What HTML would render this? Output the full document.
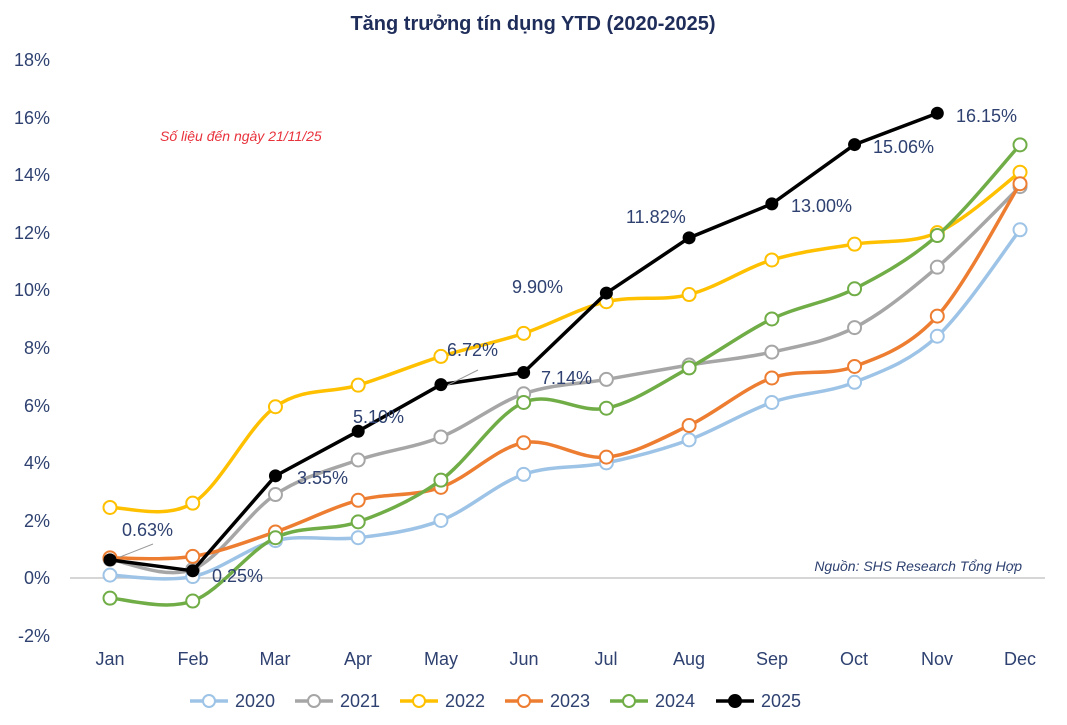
<!DOCTYPE html>
<html><head><meta charset="utf-8"><style>
body{margin:0;background:#fff;width:1067px;height:720px;overflow:hidden}
svg text{font-family:"Liberation Sans",sans-serif}
</style></head><body>
<svg id="s" width="1067" height="720" xmlns="http://www.w3.org/2000/svg">
<text x="533" y="30" text-anchor="middle" font-size="20" font-weight="bold" fill="#1f2d5a">Tăng trưởng tín dụng YTD (2020-2025)</text>
<g font-size="18" fill="#2e4170" text-anchor="end">
<text x="50" y="66">18%</text><text x="50" y="124">16%</text><text x="50" y="181">14%</text><text x="50" y="239">12%</text><text x="50" y="296">10%</text><text x="50" y="354">8%</text><text x="50" y="412">6%</text><text x="50" y="469">4%</text><text x="50" y="527">2%</text><text x="50" y="584">0%</text><text x="50" y="642">-2%</text>
</g>
<line x1="70" y1="578" x2="1045" y2="578" stroke="#c8c8c8" stroke-width="1.5"/>
<g font-size="18" fill="#2e4170" text-anchor="middle">
<text x="110" y="665">Jan</text><text x="193" y="665">Feb</text><text x="275" y="665">Mar</text><text x="358" y="665">Apr</text><text x="441" y="665">May</text><text x="524" y="665">Jun</text><text x="606" y="665">Jul</text><text x="689" y="665">Aug</text><text x="772" y="665">Sep</text><text x="854" y="665">Oct</text><text x="937" y="665">Nov</text><text x="1020" y="665">Dec</text>
</g>
<text x="160" y="141" font-size="14" font-style="italic" fill="#e8323c">Số liệu đến ngày 21/11/25</text>
<text x="1022" y="571" font-size="14" font-style="italic" fill="#2e4170" text-anchor="end">Nguồn: SHS Research Tổng Hợp</text>
<g id="series"></g>
<line x1="120" y1="557" x2="153" y2="544" stroke="#999" stroke-width="1"/>
<line x1="448" y1="385" x2="478" y2="370" stroke="#999" stroke-width="1"/>
<g font-size="18" fill="#2e4170">
<text x="122" y="536">0.63%</text>
<text x="212" y="582">0.25%</text>
<text x="297" y="484">3.55%</text>
<text x="353" y="423">5.10%</text>
<text x="447" y="356">6.72%</text>
<text x="541" y="384">7.14%</text>
<text x="512" y="293">9.90%</text>
<text x="626" y="223">11.82%</text>
<text x="791" y="212">13.00%</text>
<text x="873" y="153">15.06%</text>
<text x="956" y="122">16.15%</text>
</g>
<g font-size="18" fill="#2e4170" id="leg">
<text x="235" y="707">2020</text><text x="340" y="707">2021</text><text x="445" y="707">2022</text><text x="550" y="707">2023</text><text x="655" y="707">2024</text><text x="761" y="707">2025</text>
</g>
<g id="legm"></g>
</svg>
<script>
const X=i=>110+i*82.73, Y=v=>578-v*28.78;
const D=[
["#9dc3e6",[0.1,0.05,1.3,1.4,2.0,3.6,4.0,4.8,6.1,6.8,8.4,12.1]],
["#a6a6a6",[0.65,0.3,2.9,4.1,4.9,6.4,6.9,7.4,7.85,8.7,10.8,13.6]],
["#ffc000",[2.45,2.6,5.95,6.7,7.7,8.5,9.6,9.85,11.05,11.6,12.0,14.1]],
["#ed7d31",[0.7,0.75,1.6,2.7,3.15,4.7,4.2,5.3,6.95,7.35,9.1,13.7]],
["#70ad47",[-0.7,-0.8,1.4,1.95,3.4,6.1,5.9,7.3,9.0,10.05,11.9,15.05]]];
const ns="http://www.w3.org/2000/svg",g=document.getElementById("series");
function el(t,a,p){const e=document.createElementNS(ns,t);for(const k in a)e.setAttribute(k,a[k]);(p||g).appendChild(e);return e}
function smooth(p){let d=`M${p[0][0]},${p[0][1]}`;for(let i=0;i<p.length-1;i++){const p0=p[i-1]||p[i],p1=p[i],p2=p[i+1],p3=p[i+2]||p2;const t=1/6;d+=` C${p1[0]+(p2[0]-p0[0])*t},${p1[1]+(p2[1]-p0[1])*t} ${p2[0]-(p3[0]-p1[0])*t},${p2[1]-(p3[1]-p1[1])*t} ${p2[0]},${p2[1]}`}return d}
D.forEach(([c,v])=>{const p=v.map((a,i)=>[X(i),Y(a)]);el("path",{d:smooth(p),fill:"none",stroke:c,"stroke-width":3.5});p.forEach(q=>el("circle",{cx:q[0],cy:q[1],r:6.5,fill:"#fff",stroke:c,"stroke-width":2}))});
const b=[0.63,0.25,3.55,5.10,6.72,7.14,9.90,11.82,13.00,15.06,16.15].map((a,i)=>[X(i),Y(a)]);
el("polyline",{points:b.map(q=>q.join(",")).join(" "),fill:"none",stroke:"#000","stroke-width":3.5});
b.forEach(q=>el("circle",{cx:q[0],cy:q[1],r:6.5,fill:"#000"}));
const lm=document.getElementById("legm"),cols=D.map(d=>d[0]).concat(["#000"]);
[190,295,400,505,610,716].forEach((x,i)=>{el("line",{x1:x,y1:701,x2:x+38,y2:701,stroke:cols[i],"stroke-width":3.5},lm);el("circle",{cx:x+19,cy:701,r:6,fill:i==5?"#000":"#fff",stroke:cols[i],"stroke-width":2},lm)});
</script>
</body></html>
